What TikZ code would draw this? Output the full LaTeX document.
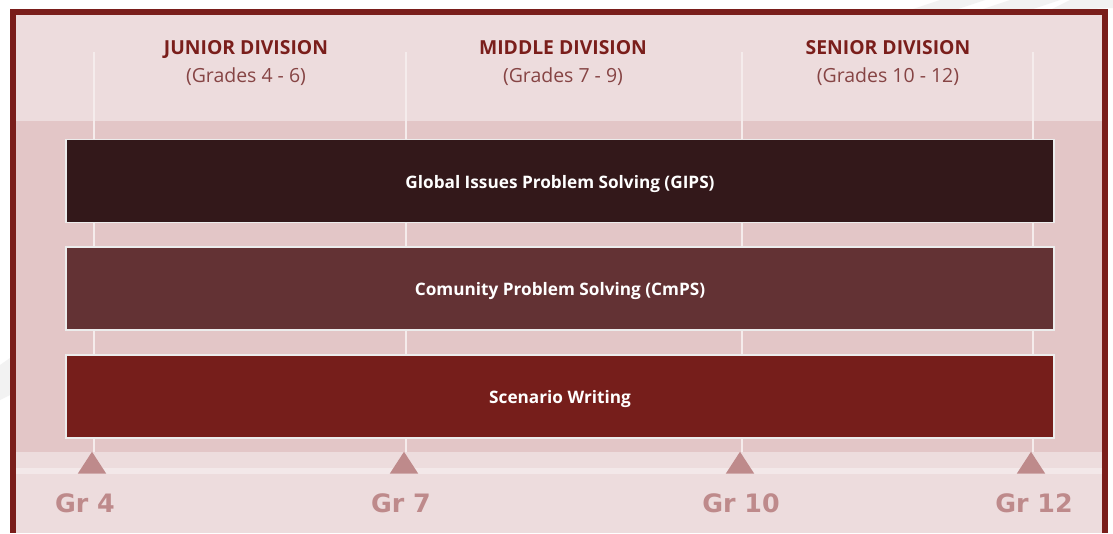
\documentclass[tikz,border=0pt]{standalone}
\usepackage{fontspec}
\setmainfont{Open Sans}
\newfontfamily\grfont{DejaVu Sans}
\usetikzlibrary{shapes.geometric}
\definecolor{frameC}{HTML}{7A1E1B}
\definecolor{topC}{HTML}{EDDCDD}
\definecolor{midC}{HTML}{E3C6C7}
\definecolor{stripeC}{HTML}{F3E8E9}
\definecolor{bgStripe}{HTML}{F2F2F2}
\definecolor{boxA}{HTML}{33181A}
\definecolor{boxB}{HTML}{633234}
\definecolor{boxC}{HTML}{761E1B}
\definecolor{triC}{HTML}{BE8A8B}
\definecolor{headC}{HTML}{7A1E1B}
\definecolor{subC}{HTML}{864444}
\definecolor{vlineC}{HTML}{F5ECEC}
\tikzset{
  bar/.style={draw=white!85!gray, line width=0.9pt, minimum width=988*0.75pt, minimum height=83*0.75pt, inner sep=0pt},
  barlabel/.style={text=white, font=\fontsize{12.9pt}{14pt}\selectfont\bfseries, anchor=base, inner sep=0pt},
  head/.style={text=headC, font=\fontsize{14.5pt}{16pt}\selectfont\bfseries, inner sep=0pt, anchor=base},
  sub/.style={text=subC, font=\fontsize{14.6pt}{16pt}\selectfont, inner sep=0pt, anchor=base},
  grlab/.style={text=triC, font=\grfont\fontsize{19pt}{21pt}\selectfont\bfseries, inner sep=0pt},
  tri/.style={fill=triC, draw=none, isosceles triangle, isosceles triangle apex angle=66, shape border rotate=90, minimum height=22*0.75pt, inner sep=0pt, anchor=south},
  vline/.style={draw=vlineC, line width=1.4pt}
}
\begin{document}
\begin{tikzpicture}[x=0.75pt, y=-0.75pt]
\useasboundingbox (0,0) rectangle (1113,533);
\fill[white] (0,0) rectangle (1113,533);
% faint background stripes
\fill[bgStripe] (940,0) -- (985,0) -- (955,10) -- (910,10) -- cycle;
\fill[bgStripe] (1010,0) -- (1060,0) -- (1030,10) -- (980,10) -- cycle;
\fill[bgStripe] (1070,0) -- (1113,0) -- (1113,8) -- (1050,10) -- cycle;
\fill[bgStripe] (0,365) -- (10,358) -- (10,395) -- (0,400) -- cycle;
% frame
\fill[frameC] (10,9) -- (1108,9) -- (1108,533) -- (10,533) -- cycle;
\fill[topC] (16,15) rectangle (1102,533);
\fill[midC] (16,121) rectangle (1102,452);
\fill[stripeC] (16,468) rectangle (1102,474);
% vertical guide lines
\foreach \x in {94,406,742,1033} \draw[vline] (\x,52) -- (\x,452);
% headings
\node[head] (hj) at (246,54) {JUNIOR DIVISION};
\node[sub] (sj) at (246,82) {(Grades 4 - 6)};
\node[head] (hm) at (563,54) {MIDDLE DIVISION};
\node[sub] (sm) at (563,82) {(Grades 7 - 9)};
\node[head] (hs) at (888,54) {SENIOR DIVISION};
\node[sub] (ss) at (888,82) {(Grades 10 - 12)};
% bars
\node[bar, fill=boxA] (gips) at (560,181) {};
\node[bar, fill=boxB] (cmps) at (560,288.5) {};
\node[bar, fill=boxC] (scen) at (560,396.5) {};
\node[barlabel] (gipsT) at ([yshift=-5.5pt]gips.center) {Global Issues Problem Solving (GIPS)};
\node[barlabel] (cmpsT) at ([yshift=-5.5pt]cmps.center) {Comunity Problem Solving (CmPS)};
\node[barlabel] (scenT) at ([yshift=-5.5pt]scen.center) {Scenario Writing};
% triangles
\node[tri] (t4) at (92,474) {};
\node[tri] (t7) at (404,474) {};
\node[tri] (t10) at (740,474) {};
\node[tri] (t12) at (1031,474) {};
% grade labels
\node[grlab] (g4) at (85,503) {Gr 4};
\node[grlab] (g7) at (401,503) {Gr 7};
\node[grlab] (g10) at (741,503) {Gr 10};
\node[grlab] (g12) at (1034,503) {Gr 12};
\end{tikzpicture}
\end{document}
